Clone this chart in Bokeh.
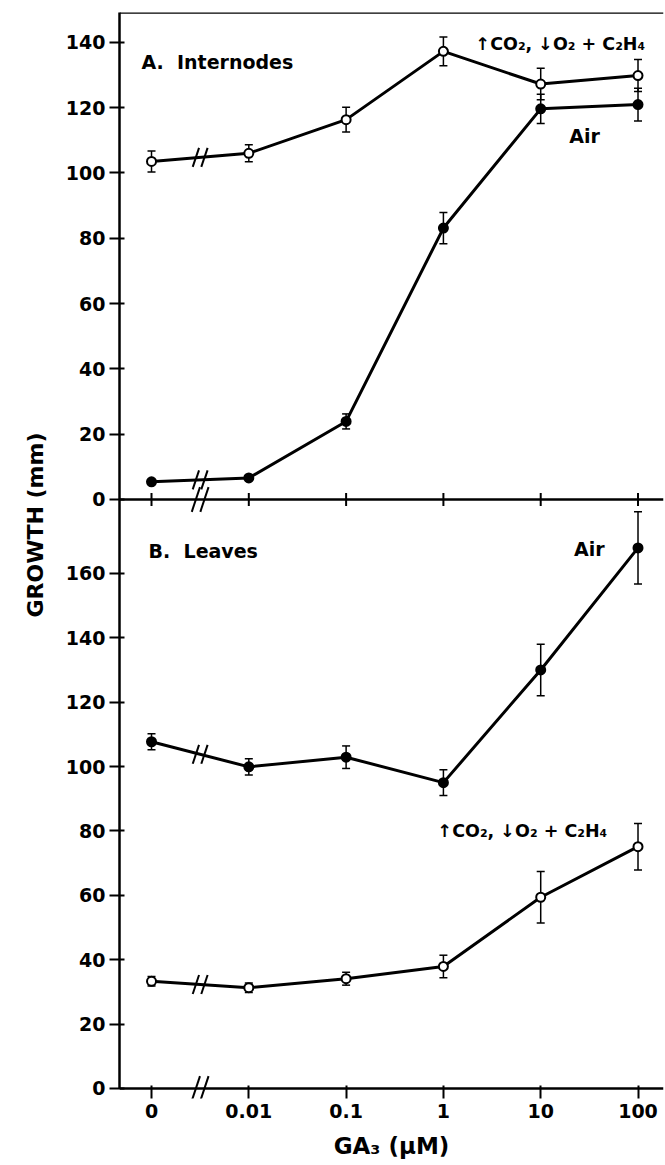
import math
from bokeh.plotting import figure
from bokeh.models import (Range1d, LinearAxis, FixedTicker, Whisker, TeeHead,
                          ColumnDataSource, Label, Span, Title)
from bokeh.embed import file_html
from bokeh.resources import INLINE

# ---------------- data ----------------
x_labels = ["0", "0.01", "0.1", "1", "10", "100"]

# Panel A: Internodes
a_treat = [103.5, 106.0, 116.3, 137.2, 127.2, 129.8]
a_treat_err = [3.2, 2.6, 3.8, 4.4, 4.8, 4.9]
a_air = [5.4, 6.6, 23.9, 83.1, 119.6, 120.9]
a_air_err = [0.0, 0.0, 2.3, 4.8, 4.5, 5.0]

# Panel B: Leaves
b_air = [107.7, 99.9, 102.9, 95.0, 130.0, 167.9]
b_air_err = [2.5, 2.5, 3.5, 4.0, 8.0, 11.2]
b_treat = [33.3, 31.3, 34.1, 37.9, 59.4, 75.1]
b_treat_err = [1.5, 1.5, 2.0, 3.5, 8.0, 7.2]

a_ticks = [0, 20, 40, 60, 80, 100, 120, 140]
b_ticks = [0, 20, 40, 60, 80, 100, 120, 140, 160]

treat_text = "\u2191CO\u2082, \u2193O\u2082 + C\u2082H\u2084"
y_title = "GROWTH (mm)"
x_title = "GA\u2083 (\u03bcM)"

FONT = "DejaVu Sans"
xs = list(range(len(x_labels)))

# ranges: main (panel B) and extra (panel A) share one frame
X0, X1 = -0.329, 5.262
M0, M1 = -3.106, 334.2
A0, A1 = -183.4, 149.1
FRAME_W, FRAME_H = 544, 1086

p = figure(frame_width=FRAME_W, frame_height=FRAME_H,
           x_range=Range1d(X0, X1), y_range=Range1d(M0, M1),
           output_backend="svg", toolbar_location=None,
           min_border_left=119, min_border_top=12, min_border_right=2,
           min_border_bottom=0)
p.extra_y_ranges = {"A": Range1d(A0, A1)}
p.grid.visible = False
p.outline_line_color = None
p.background_fill_color = "white"
p.border_fill_color = "white"

# ---------- x axis (labels at frame bottom, line drawn at zero) ----------
xa = p.xaxis[0]
xa.ticker = FixedTicker(ticks=xs)
xa.major_label_overrides = {i: lab for i, lab in zip(xs, x_labels)}
xa.minor_tick_line_color = None
xa.axis_line_color = None
xa.major_tick_out = 0
xa.major_tick_in = 13
xa.major_tick_line_width = 2
xa.major_tick_line_color = "black"
xa.major_label_standoff = 5
xa.major_label_text_font = FONT
xa.major_label_text_font_style = "bold"
xa.major_label_text_font_size = "19px"
xa.major_label_text_color = "black"
xa.axis_label = x_title
xa.axis_label_text_font = FONT
xa.axis_label_text_font_style = "bold"
xa.axis_label_text_font_size = "23px"
xa.axis_label_text_color = "black"
xa.axis_label_standoff = 12

p.add_layout(Span(location=0, dimension="width", line_color="black",
                  line_width=2.5))


def to_main(v):
    return M0 + (v - A0) * (M1 - M0) / (A1 - A0)


ya = p.yaxis[0]
y_ticks = [float(t) for t in b_ticks] + [to_main(t) for t in a_ticks]
y_labels = [str(t) for t in b_ticks] + [str(t) for t in a_ticks]
ya.ticker = FixedTicker(ticks=y_ticks)
ya.major_label_overrides = {t: lab for t, lab in zip(y_ticks, y_labels)}
ya.bounds = (0, M1)
ya.minor_tick_line_color = None
ya.major_tick_out = 10
ya.major_tick_in = 5
ya.axis_line_width = 2.5
ya.major_tick_line_width = 2
ya.major_label_standoff = 4
ya.major_label_text_font = FONT
ya.major_label_text_font_style = "bold"
ya.major_label_text_font_size = "19px"
ya.major_label_text_color = "black"

# y title as a left-side title, starting where the reference's begins
p.add_layout(Title(text=y_title, align="left", offset=481, standoff=30,
                   text_font=FONT, text_font_style="bold",
                   text_font_size="22px", text_color="black"), "left")

# divider line between the panels (panel A zero line) with crossing ticks
p.add_layout(Span(location=0, dimension="width", y_range_name="A",
                  line_color="black", line_width=2.5))
p.scatter(xs, [0] * len(xs), marker="dash", size=13, angle=math.pi / 2,
          line_width=2, line_color="black", y_range_name="A")

# top border
top_axis = LinearAxis(y_range_name="A", fixed_location=A1,
                      ticker=FixedTicker(ticks=[]),
                      major_tick_in=0, major_tick_out=0,
                      major_label_standoff=0,
                      axis_line_width=2.5, minor_tick_line_color=None)
p.add_layout(top_axis, "above")


# ---------- series ----------
def series(vals, errs, filled, rng):
    kw = {} if rng is None else {"y_range_name": rng}
    src = ColumnDataSource(dict(
        x=xs, y=vals,
        upper=[v + e for v, e in zip(vals, errs)],
        lower=[v - e for v, e in zip(vals, errs)]))
    w = Whisker(source=src, base="x", upper="upper", lower="lower",
                line_width=1.5, line_color="black",
                upper_head=TeeHead(size=8, line_width=1.5),
                lower_head=TeeHead(size=8, line_width=1.5), **kw)
    p.add_layout(w)
    p.line("x", "y", source=src, line_width=3, line_color="black", **kw)
    p.scatter("x", "y", source=src, size=9, line_width=2, line_color="black",
              fill_color="black" if filled else "white", **kw)
    # axis break marks on the line between 0 and 0.01
    mid = (vals[0] + vals[1]) / 2.0
    p.scatter([0.456, 0.544], [mid, mid], marker="dash", size=20,
              angle=1.25, line_width=2, line_color="black", **kw)


series(a_treat, a_treat_err, False, "A")
series(a_air, a_air_err, True, "A")
series(b_air, b_air_err, True, None)
series(b_treat, b_treat_err, False, None)

# break marks on the axes
p.scatter([0.456, 0.544], [0, 0], marker="dash", size=26, angle=1.25,
          line_width=2, line_color="black", y_range_name="A")
p.scatter([0.456, 0.544], [0, 0], marker="dash", size=26, angle=1.25,
          line_width=2, line_color="black")


# ---------- text ----------
def label(x, y, text, align="left", rng=None, size="19px"):
    kw = {} if rng is None else {"y_range_name": rng}
    p.add_layout(Label(x=x, y=y, text=text, text_font=FONT,
                       text_font_style="bold", text_font_size=size,
                       text_align=align, text_baseline="middle",
                       text_color="black", **kw))


label(-0.103, 133.8, "A.\u00a0 Internodes", rng="A")
label(3.33, 139.6, treat_text, rng="A", size="17.5px")
label(4.45, 111.3, "Air", align="center", rng="A")
label(-0.03, 167.0, "B.\u00a0 Leaves")
label(4.50, 167.7, "Air", align="center")
label(2.94, 80.1, treat_text, size="17.5px")

open("out.html", "w").write(file_html(p, INLINE))
